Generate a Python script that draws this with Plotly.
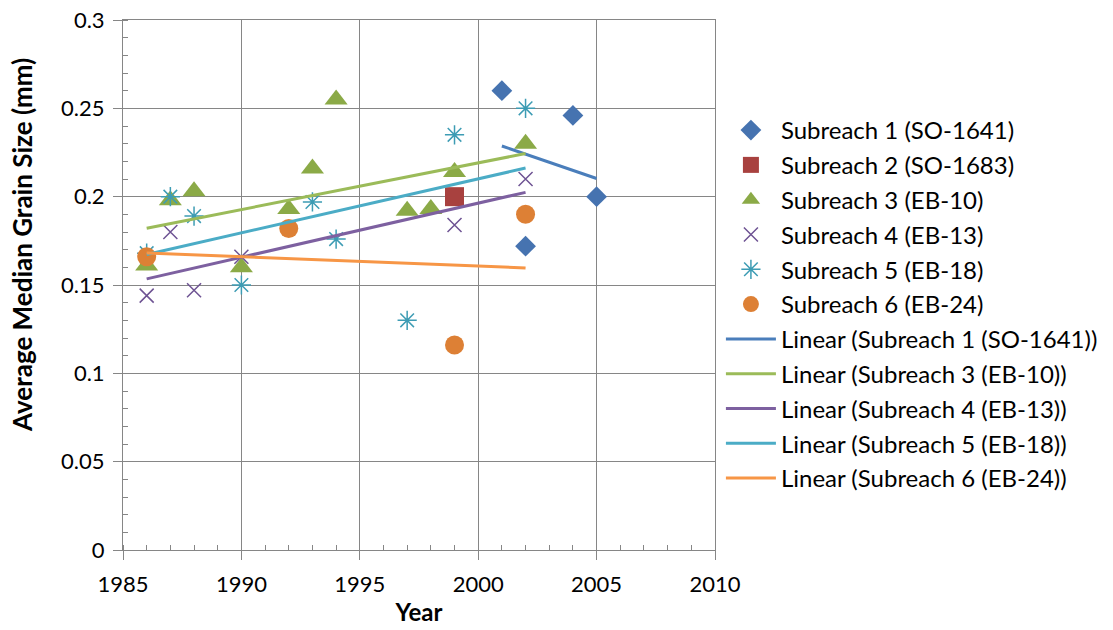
import numpy as np
import plotly.graph_objects as go

# ---- data ----
s1_year = [2001, 2002, 2004, 2005]
s1_d50 = [0.260, 0.172, 0.246, 0.200]

s2_year = [1999]
s2_d50 = [0.200]

s3_year = [1986, 1987, 1988, 1990, 1992, 1993, 1994, 1997, 1998, 1999, 2002]
s3_d50 = [0.161, 0.198, 0.203, 0.160, 0.193, 0.216, 0.255, 0.192, 0.193, 0.214, 0.230]

s4_year = [1986, 1987, 1988, 1990, 1999, 2002]
s4_d50 = [0.144, 0.180, 0.147, 0.166, 0.184, 0.210]

s5_year = [1986, 1987, 1988, 1990, 1993, 1994, 1997, 1999, 2002]
s5_d50 = [0.168, 0.200, 0.189, 0.150, 0.197, 0.176, 0.130, 0.235, 0.250]

s6_year = [1986, 1992, 1999, 2002]
s6_d50 = [0.166, 0.182, 0.116, 0.190]

names = [
    "Subreach 1 (SO-1641)",
    "Subreach 2 (SO-1683)",
    "Subreach 3 (EB-10)",
    "Subreach 4 (EB-13)",
    "Subreach 5 (EB-18)",
    "Subreach 6 (EB-24)",
]

x_ticks = [1985, 1990, 1995, 2000, 2005, 2010]
y_ticks = [0, 0.05, 0.1, 0.15, 0.2, 0.25, 0.3]
y_ticktext = ["0", "0.05", "0.1", "0.15", "0.2", "0.25", "0.3"]

marker_styles = [
    dict(symbol="diamond", size=16, color="#4673B0"),
    dict(symbol="square", size=19, color="#A8413F"),
    dict(symbol="triangle-up", size=20, color="#8BAA47"),
    dict(symbol="x-thin-open", size=14, color="#6E5393", line=dict(width=1.5, color="#6E5393")),
    dict(symbol="asterisk-open", size=16, color="#3D9CB4", line=dict(width=1.5, color="#3D9CB4")),
    dict(symbol="circle", size=19, color="#DD8035"),
]
trend_colors = {0: "#4A7EBB", 2: "#9BBB59", 3: "#7D60A0", 4: "#4BACC6", 5: "#F79646"}

series = [(s1_year, s1_d50), (s2_year, s2_d50), (s3_year, s3_d50),
          (s4_year, s4_d50), (s5_year, s5_d50), (s6_year, s6_d50)]

fig = go.Figure()
for i, ((xs, ys), nm) in enumerate(zip(series, names)):
    fig.add_trace(go.Scatter(
        x=xs, y=ys, mode="markers", name=nm, marker=marker_styles[i],
        legendgroup=f"m{i}",
    ))

for i in [0, 2, 3, 4, 5]:
    xs, ys = series[i]
    xs = np.array(xs, dtype=float)
    ys = np.array(ys, dtype=float)
    slope, intercept = np.polyfit(xs, ys, 1)
    xl = np.array([xs.min(), xs.max()])
    fig.add_trace(go.Scatter(
        x=xl, y=slope * xl + intercept, mode="lines",
        name=f"Linear ({names[i]})",
        line=dict(color=trend_colors[i], width=3),
        legendgroup=f"l{i}",
    ))

grid = "#868686"
font_family = "Lato, Carlito, Calibri, sans-serif"

fig.update_layout(
    width=1113, height=630,
    margin=dict(l=123, r=398, t=20, b=80, autoexpand=False),
    paper_bgcolor="white", plot_bgcolor="white",
    font=dict(family=font_family, size=22, color="black"),
    showlegend=True,
    legend=dict(
        x=1.01, xanchor="left", y=0.834, yanchor="top",
        font=dict(size=24, family=font_family),
        itemwidth=50, tracegroupgap=0.6,
        bgcolor="rgba(0,0,0,0)", borderwidth=0,
    ),
    xaxis=dict(
        range=[1985, 2010], tickvals=x_ticks, ticktext=[str(v) for v in x_ticks],
        showgrid=True, gridcolor=grid, gridwidth=1,
        showline=True, linecolor=grid, linewidth=1, mirror=True,
        ticks="outside", ticklen=9, tickcolor=grid,
        minor=dict(dtick=1, ticks="inside", ticklen=5, tickcolor=grid, showgrid=False),
        zeroline=False, automargin=False,
        ticklabelstandoff=6, ticklabeloverflow="allow",
        title=dict(text="<b>Year</b>", font=dict(size=24), standoff=7),
        tickfont=dict(size=22),
    ),
    yaxis=dict(
        range=[0, 0.3], tickvals=y_ticks, ticktext=y_ticktext,
        showgrid=True, gridcolor=grid, gridwidth=1,
        showline=True, linecolor=grid, linewidth=1, mirror=True,
        ticks="outside", ticklen=9, tickcolor=grid,
        minor=dict(dtick=0.01, ticks="inside", ticklen=5, tickcolor=grid, showgrid=False),
        zeroline=False, automargin=False,
        ticklabelstandoff=4, ticklabeloverflow="allow",
        tickfont=dict(size=22),
    ),
    annotations=[dict(
        text="<b>Average Median Grain Size (mm)</b>",
        xref="paper", yref="paper", x=0, y=0.5755,
        xanchor="center", yanchor="middle", xshift=-101,
        textangle=-90, showarrow=False,
        font=dict(size=26, family=font_family, color="black"),
    )],
)

# remove the default 8px page margin so the figure fills the window exactly
fig.write_html(
    "out.html",
    config={"displayModeBar": False},
    post_script="document.body.style.margin='0';",
)
